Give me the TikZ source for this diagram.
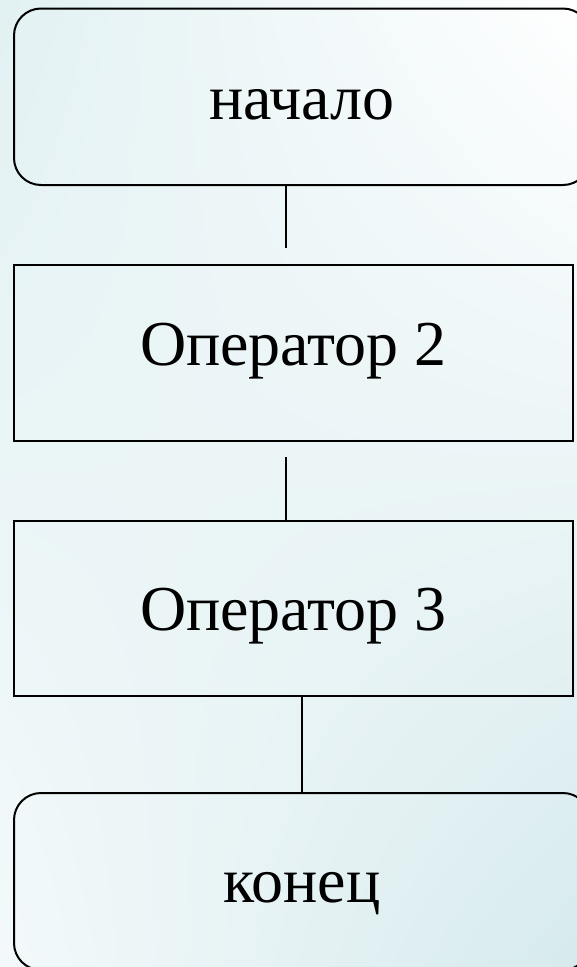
\documentclass[tikz,border=0pt]{standalone}
\usepackage{fontspec}
\setmainfont{Liberation Serif}
\usetikzlibrary{shadings}
\definecolor{bgA}{HTML}{E2F1F3}
\definecolor{bgB}{HTML}{D6EAED}
\begin{document}
\begin{tikzpicture}[x=1pt,y=-1pt,
  every node/.style={font=\fontsize{64}{72}\selectfont, text=black, text depth=0pt},
  termbox/.style={draw=black, line width=2pt, rounded corners=27pt, minimum width=576pt, inner sep=0pt, outer sep=0pt},
  opbox/.style={draw=black, line width=2pt, minimum width=559pt, minimum height=175.5pt, inner sep=0pt, outer sep=0pt},
  link/.style={draw=black, line width=2pt}]
\useasboundingbox (0,0) rectangle (577,967);
\clip (0,0) rectangle (577,967);
\shade[upper left=bgA, upper right=white, lower left=white!60!bgA, lower right=bgB] (0,0) rectangle (577,967);
\node[termbox, minimum height=176.5pt, text height=46pt] (start) at (302,96.75) {начало};
\node[opbox, text height=25pt] (op2) at (293.5,352.75) {Оператор 2};
\node[opbox, text height=44pt] (op3) at (293.5,608.25) {Оператор 3};
\node[termbox, minimum height=177pt, text height=41pt] (stop) at (302,881.5) {конец};
\coordinate (a1) at (286,248);
\coordinate (a2) at (286,457);
\draw[link] (start.south -| a1) -- (a1);
\draw[link] (a2) -- (op3.north -| a2);
\coordinate (b1) at (301.5,700);
\draw[link] (op3.south -| b1) -- (stop.north -| b1);
\end{tikzpicture}
\end{document}
